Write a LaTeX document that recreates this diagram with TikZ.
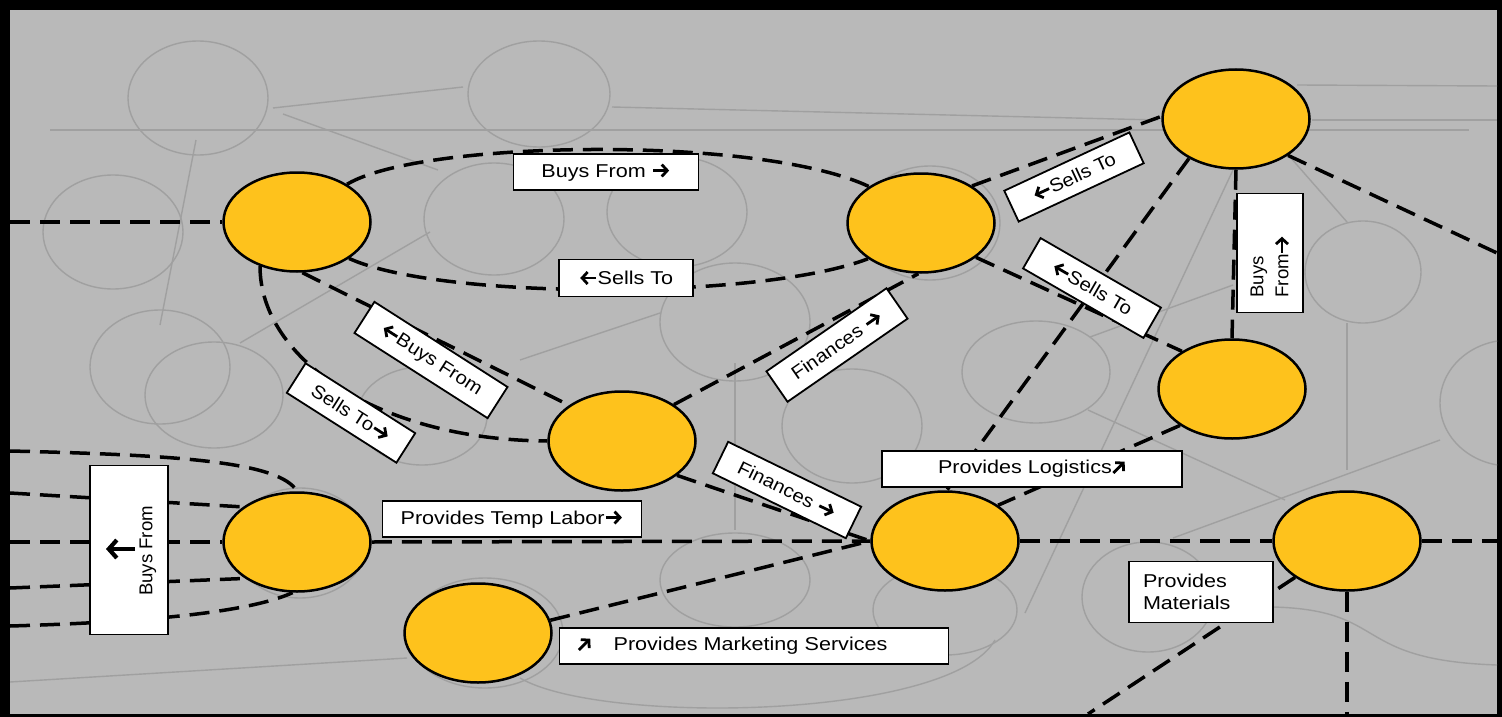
\documentclass[tikz,border=0pt]{standalone}
\usepackage{fontspec}
\setmainfont{Liberation Sans}
\newfontfamily\widefont{Liberation Sans}[FakeStretch=1.16]
\newfontfamily\midfont{Liberation Sans}[FakeStretch=1.09]
\usetikzlibrary{shapes.geometric,arrows.meta}
\definecolor{bggray}{RGB}{185,185,185}
\definecolor{faintgray}{RGB}{160,160,160}
\definecolor{orgyellow}{RGB}{254,194,28}
\newcommand{\hvarrow}[1]{\tikz[x=1pt,y=1pt,baseline=-6.5pt]{\draw[line width=2.8pt, -{Straight Barb[length=5.5pt,width=12pt,line width=2.8pt]}, rotate=#1] (-8,0) -- (8,0);}}
\newcommand{\myra}{\hvarrow{0}}
\newcommand{\myla}{\hvarrow{180}}
\newcommand{\myne}{\hvarrow{45}}
\begin{document}
\begin{tikzpicture}[x=1pt,y=-1pt,
 org/.style={ellipse, draw=black, line width=2.5pt, fill=orgyellow, minimum width=147pt, minimum height=99pt, inner sep=0pt},
 lbl/.style={draw=black, line width=1.8pt, fill=white, inner sep=0pt, minimum height=36pt, font=\widefont\fontsize{18.6}{22}\selectfont},
 rlbl/.style={lbl, font=\midfont\fontsize{18.6}{22}\selectfont},
 vlbl/.style={lbl, font=\fontsize{18.6}{25}\selectfont},
 link/.style={draw=black, line width=3.5pt, dash pattern=on 20pt off 10pt},
 faint/.style={draw=faintgray, line width=1.4pt}]
\useasboundingbox (0,0) rectangle (1502,717);
\fill[black] (0,0) rectangle (1502,717);
\fill[bggray] (10,10) rectangle (1497,714);
% faint background sketch
\begin{scope}
\clip (10,10) rectangle (1497,714);
\draw[faint] (198,98) ellipse [x radius=70, y radius=57];
\draw[faint] (539,94) ellipse [x radius=71, y radius=53];
\draw[faint] (113,232) ellipse [x radius=70, y radius=57];
\draw[faint] (494,219) ellipse [x radius=70, y radius=56];
\draw[faint] (677,212) ellipse [x radius=70, y radius=55];
\draw[faint] (160,367) ellipse [x radius=70, y radius=57];
\draw[faint] (214,395) ellipse [x radius=69, y radius=53];
\draw[faint] (422,416) ellipse [x radius=65, y radius=49];
\draw[faint] (735,322) ellipse [x radius=75, y radius=59];
\draw[faint] (852,426) ellipse [x radius=70, y radius=57];
\draw[faint] (1036,372) ellipse [x radius=74, y radius=51];
\draw[faint] (1363,272) ellipse [x radius=58, y radius=51];
\draw[faint] (1510,403) ellipse [x radius=70, y radius=63];
\draw[faint] (735,580) ellipse [x radius=75, y radius=47];
\draw[faint] (1148,597) ellipse [x radius=66, y radius=55];
\draw[faint] (300,543) ellipse [x radius=67, y radius=55];
\draw[faint] (485,633) ellipse [x radius=78, y radius=55];
\draw[faint] (930,223) ellipse [x radius=70, y radius=57];
\draw[faint] (945,610) ellipse [x radius=72, y radius=45];
\draw[faint] (50,130) -- (1469,130);
\draw[faint] (612,107) -- (1158,120);
\draw[faint] (1312,120) -- (1497,120);
\draw[faint] (1297,85) -- (1497,86);
\draw[faint] (273,108) -- (463,87);
\draw[faint] (283,114) -- (438,170);
\draw[faint] (196,140) -- (160,325);
\draw[faint] (430,232) -- (240,343);
\draw[faint] (520,360) -- (660,313);
\draw[faint] (1233,170) -- (1025,613);
\draw[faint] (1290,157) -- (1347,222);
\draw[faint] (1347,323) -- (1347,470);
\draw[faint] (1090,337) -- (1233,285);
\draw[faint] (1088,410) -- (1285,500);
\draw[faint] (1173,538) -- (1440,440);
\draw[faint] (10,682) -- (407,658);
\draw[faint] (735,363) -- (735,530);
\draw[faint] (520,678) .. controls (600,725) and (950,720) .. (995,640);
\draw[faint] (1273,607) .. controls (1390,610) and (1350,660) .. (1497,665);
\end{scope}
% organisations
\node[org] (A) at (297,222) {};
\node[org] (B) at (921,223) {};
\node[org] (C) at (1236,119) {};
\node[org] (D) at (622,441) {};
\node[org] (E) at (1232,389) {};
\node[org] (F) at (297,542) {};
\node[org] (G) at (945,541) {};
\node[org] (H) at (1347,541) {};
\node[org] (I) at (478,633) {};
% edge points
\coordinate (eA) at (10,222);
\coordinate (eF1) at (10,451);
\coordinate (eF2) at (10,493);
\coordinate (eF3) at (10,542);
\coordinate (eF4) at (10,588);
\coordinate (eF5) at (10,626);
\coordinate (eC) at (1497,253);
\coordinate (eH) at (1497,541);
\coordinate (eHb) at (1347,714);
\coordinate (eHm) at (1088,714);
% connectors
\draw[link] (eA) -- (A.west);
\draw[link] (A.37) .. controls (420,140) and (760,135) .. (B.145);
\draw[link] (A.-35) .. controls (440,300) and (760,300) .. (B.-146);
\draw[link] (A.-130) .. controls (260,360) and (380,440) .. (D.west);
\draw[link] (A.-84) -- (D.146);
\draw[link] (D.35) -- (B.-93);
\draw[link] (D.-32) -- (G.west);
\draw[link] (I.10) -- (G.west);
\draw[link] (F.east) -- (G.west);
\draw[link] (G.east) -- (H.west);
\draw[link] (H.east) -- (eH);
\draw[link] (H.south) -- (eHb);
\draw[link] (H.-145) -- (eHm);
\draw[link] (E.-145) -- (G.34);
\draw[link] (C.-140) -- (G.88);
\draw[link] (B.36) -- (C.178);
\draw[link] (B.-32) -- (E.143);
\draw[link] (C.south) -- (E.north);
\draw[link] (C.-35) -- (eC);
\draw[link] (eF1) .. controls (180,455) and (280,462) .. (F.north);
\draw[link] (eF2) -- (F.147);
\draw[link] (eF3) -- (F.west);
\draw[link] (eF4) -- (F.-145);
\draw[link] (eF5) .. controls (150,622) and (250,612) .. (F.-95);
% labels
\node[lbl, minimum width=185pt] (lbBuys) at (606,172) {Buys From \myra};
\node[lbl, minimum width=134pt, minimum height=37pt] (lbSells) at (626,278) {\myla Sells To};
\node[rlbl, rotate=-32.6, minimum width=158pt, minimum height=37pt] (lbBuysD) at (431,360) {\myla Buys From};
\node[rlbl, rotate=-32.5, minimum width=130pt, minimum height=35pt] (lbSellsD) at (351,413) {Sells To\myra};
\node[rlbl, rotate=34.7, minimum width=146pt, minimum height=37pt] (lbFinU) at (837,345) {Finances \myra};
\node[rlbl, rotate=-26, minimum width=148pt, minimum height=35pt] (lbFinL) at (787,490) {Finances \myra};
\node[rlbl, rotate=25, minimum width=138pt, minimum height=34pt] (lbSellsC) at (1074,177) {\myla Sells To};
\node[rlbl, rotate=-30, minimum width=139pt, minimum height=35pt] (lbSellsE) at (1092,288) {\myla Sells To};
\node[vlbl, rotate=90, minimum width=119pt, minimum height=66pt, text width=89pt, inner xsep=15pt, align=left] (lbBuysV) at (1270,253) {Buys\\From\myra};
\node[lbl, minimum width=300pt] (lbLog) at (1032,469) {Provides Logistics\myne};
\node[lbl, minimum width=259pt] (lbTemp) at (512,519) {Provides Temp Labor\myra};
\node[lbl, minimum width=78pt, minimum height=169pt] (lbBuysL) at (129,550) {};
\node[rotate=90, inner sep=0pt, font=\fontsize{18.6}{22}\selectfont] (lbBuysLt) at (148,551) {Buys From};
\draw[line width=4.2pt, -{Straight Barb[length=8pt,width=18pt,line width=4.2pt]}] (135,549) -- (106,549);
\node[lbl, minimum width=144pt, minimum height=61pt, text width=116pt, inner xsep=14pt, align=left] (lbMat) at (1201,592) {Provides\\Materials};
\node[lbl, minimum width=389pt, text width=353pt, inner xsep=18pt, align=left] (lbMkt) at (754,646) {\myne\hspace{22pt}Provides Marketing Services};
\end{tikzpicture}
\end{document}
